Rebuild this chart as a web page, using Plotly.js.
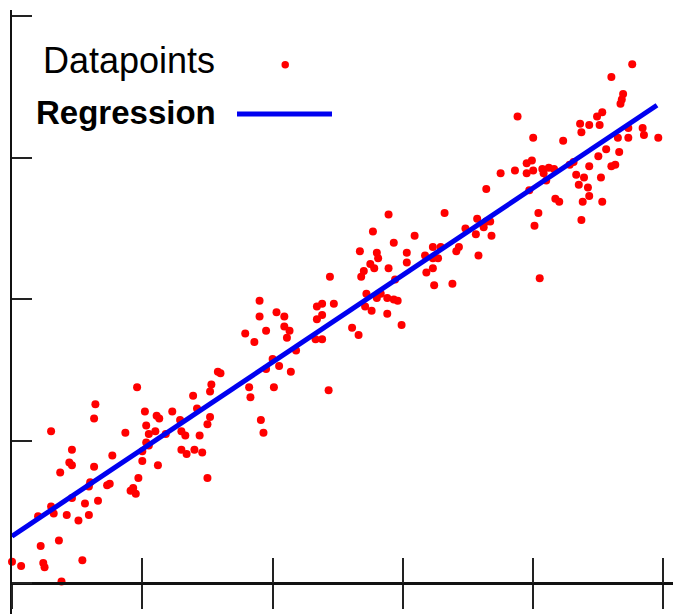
<!DOCTYPE html>
<html>
<head>
<meta charset="utf-8">
<script src="https://cdn.plot.ly/plotly-3.0.1.min.js"></script>
<style>
html,body{margin:0;padding:0;background:#fff;}
#chart{width:682px;height:614px;}
</style>
</head>
<body>
<div id="chart"></div>
<script>
// Data points (axis tick units)
const pointsX = [
0.64,0.63,0.30,0.46,0.44,0.46,0.37,0.63,0.77,0.60,0.59,0.73,0.75,0.46,0.66,0.56,0.30,0.32,0.20,0.42,0.51,0.59,0.22,0.36,0.00,0.07,0.24,0.25,0.54,0.38,
1.58,1.60,1.53,1.52,0.96,1.39,1.42,1.02,1.23,1.11,1.13,1.52,1.50,1.29,1.03,0.87,1.05,1.10,1.30,1.33,1.18,1.44,1.03,1.05,1.00,1.30,1.34,1.40,1.46,1.00,1.12,0.97,0.93,0.91,0.95,1.50,
2.44,1.90,2.47,2.38,2.34,1.90,2.03,2.09,2.38,2.34,2.09,2.13,2.11,1.95,1.79,1.86,2.33,2.38,2.18,2.00,1.95,2.05,2.14,1.82,2.01,1.83,2.43,1.91,1.93,
2.89,3.32,2.77,3.09,2.93,2.67,2.80,2.81,3.03,3.23,3.29,3.17,3.23,3.27,3.41,3.43,3.03,2.75,2.78,2.89,2.70,2.68,3.18,3.23,2.94,3.24,3.38,2.72,2.83,2.80,2.88,2.93,2.96,2.71,2.76,2.88,2.99,2.61,2.66,
3.88,4.00,4.23,3.95,3.99,4.00,3.95,3.86,3.75,4.07,4.08,4.12,4.16,4.10,4.28,4.31,3.64,3.97,4.17,4.20,3.57,4.04,3.48,3.64,3.67,3.62,4.01,3.56,3.68,3.58,4.05,
4.76,4.60,4.69,4.68,4.67,4.53,4.49,4.36,4.37,4.43,4.51,4.73,4.84,4.85,4.96,4.65,4.73,4.56,4.66,4.50,4.43,4.60,4.63,4.33,4.39,4.35,4.52,4.42,4.43,4.38,4.53,4.37
];
const pointsY = [
1.26,1.16,1.07,0.94,0.85,0.83,0.78,0.82,0.90,0.71,0.68,0.69,0.70,0.60,0.58,0.56,0.54,0.49,0.47,0.48,0.44,0.48,0.26,0.30,0.15,0.12,0.14,0.11,0.16,0.01,
1.49,1.48,1.40,1.35,1.38,1.32,1.23,1.21,1.21,1.18,1.16,1.17,1.12,1.15,1.11,1.06,1.05,1.07,1.07,1.04,1.05,1.04,0.99,0.97,0.93,0.94,0.91,0.94,0.92,0.86,0.83,0.74,0.67,0.65,0.63,0.74,
2.16,1.99,1.97,1.97,1.95,1.88,1.91,1.88,1.89,1.86,1.81,1.78,1.73,1.78,1.76,1.70,1.72,1.72,1.64,1.58,1.51,1.53,1.49,1.38,1.38,1.31,1.36,1.15,1.06,
2.60,2.61,2.48,2.45,2.40,2.34,2.33,2.29,2.33,2.37,2.37,2.31,2.29,2.29,2.34,2.37,2.26,2.25,2.22,2.22,2.20,2.16,2.19,2.22,2.14,2.10,2.11,2.04,2.04,2.01,2.01,2.00,1.99,1.95,1.92,1.90,1.82,1.80,1.75,
3.29,3.14,3.12,2.96,2.98,2.91,2.89,2.91,2.89,2.92,2.89,2.93,2.92,2.84,2.95,2.97,2.78,2.77,2.71,2.69,2.57,2.61,2.50,2.55,2.55,2.51,2.52,2.46,2.45,2.31,2.15,
3.66,3.57,3.45,3.41,3.38,3.32,3.29,3.24,3.18,3.23,3.23,3.21,3.21,3.16,3.14,3.14,3.14,3.06,3.04,3.01,2.94,2.94,2.95,2.88,2.86,2.81,2.86,2.79,2.73,2.69,2.69,2.56
];
// Regression line end points
const regressionX = [0, 4.95];
const regressionY = [0.33, 3.37];
// Legend labels
const legendLabels = ["Datapoints", "Regression"];

const xRange = [0, 5.073];
const yRange = [-0.219, 4.042];
const axisPos = 0.0513;
const legendFont = '"Liberation Sans Narrow", "Arial Narrow", "Liberation Sans", Arial, sans-serif';

const traces = [
  {x: pointsX, y: pointsY, type: 'scatter', mode: 'markers', name: legendLabels[0],
   marker: {color: '#ff0000', size: 8}, cliponaxis: false, showlegend: false},
  {x: regressionX, y: regressionY, type: 'scatter', mode: 'lines', name: legendLabels[1],
   line: {color: '#0000f0', width: 5}, showlegend: false},
  {x: [], y: [], xaxis: 'x2', type: 'scatter', showlegend: false, hoverinfo: 'skip'}
];

const layout = {
  width: 682, height: 614,
  margin: {l: 12, r: 9, t: 10, b: 0, pad: 0},
  paper_bgcolor: '#ffffff', plot_bgcolor: '#ffffff',
  showlegend: false,
  xaxis: {range: xRange, anchor: 'free', position: axisPos, showgrid: false, zeroline: false,
    showline: true, linecolor: '#111', linewidth: 2.5, ticks: 'outside', ticklen: 24, tickwidth: 2,
    tickcolor: '#222', tick0: 0, dtick: 1, showticklabels: false, fixedrange: true},
  xaxis2: {range: xRange, overlaying: 'x', anchor: 'free', position: axisPos, showgrid: false, zeroline: false,
    showline: false, ticks: 'inside', ticklen: 25, tickwidth: 2, tickcolor: '#222',
    tick0: 0, dtick: 1, showticklabels: false, fixedrange: true},
  yaxis: {range: yRange, showgrid: false, zeroline: false, showline: true, linecolor: '#111', linewidth: 2,
    ticks: 'inside', ticklen: 20, tickwidth: 2, tickcolor: '#222', tick0: 0, dtick: 1,
    showticklabels: false, fixedrange: true},
  annotations: [
    {text: legendLabels[0], xref: 'paper', yref: 'paper', x: 0.310, y: 0.917, xanchor: 'right', yanchor: 'middle',
     showarrow: false, font: {family: legendFont, size: 36, color: '#000'}},
    {text: '<b>' + legendLabels[1] + '</b>', xref: 'paper', yref: 'paper', x: 0.311, y: 0.831, xanchor: 'right', yanchor: 'middle',
     showarrow: false, font: {family: legendFont, size: 33, color: '#000'}}
  ],
  shapes: [
    {type: 'circle', xref: 'paper', yref: 'paper', x0: 0.4077, x1: 0.4190, y0: 0.9031, y1: 0.9155,
     fillcolor: '#ff0000', line: {width: 0}},
    {type: 'line', xref: 'paper', yref: 'paper', x0: 0.3404, x1: 0.4841, y0: 0.8278, y1: 0.8278,
     line: {color: '#0000f0', width: 5}}
  ]
};

Plotly.newPlot('chart', traces, layout, {displayModeBar: false, staticPlot: true});
</script>
</body>
</html>
